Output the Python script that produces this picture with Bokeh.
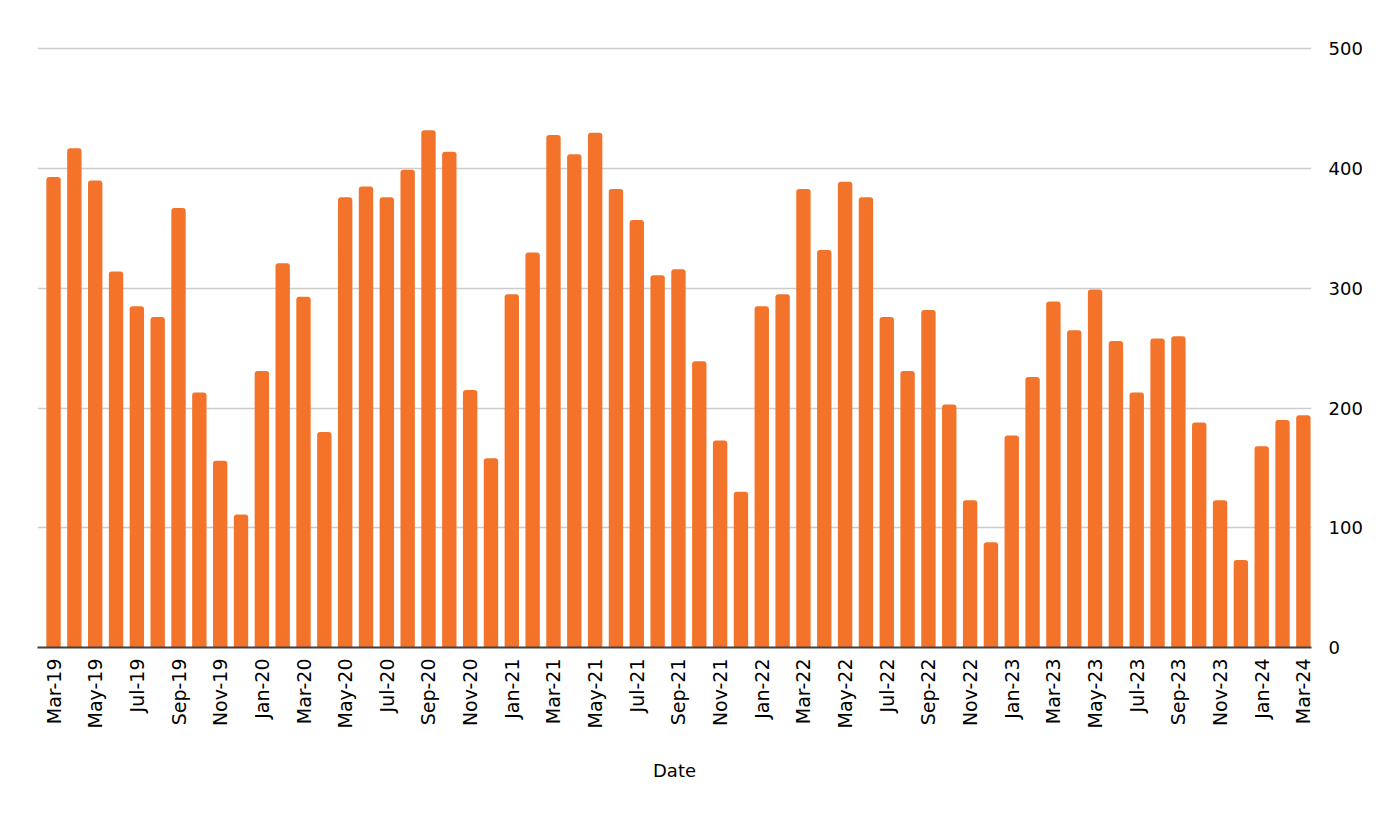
from bokeh.plotting import figure
from bokeh.models import LinearAxis, Range1d, SingleIntervalTicker, FixedTicker
from bokeh.embed import file_html
from bokeh.resources import INLINE
import math

months = ["Mar-19","Apr-19","May-19","Jun-19","Jul-19","Aug-19","Sep-19","Oct-19","Nov-19","Dec-19",
          "Jan-20","Feb-20","Mar-20","Apr-20","May-20","Jun-20","Jul-20","Aug-20","Sep-20","Oct-20","Nov-20","Dec-20",
          "Jan-21","Feb-21","Mar-21","Apr-21","May-21","Jun-21","Jul-21","Aug-21","Sep-21","Oct-21","Nov-21","Dec-21",
          "Jan-22","Feb-22","Mar-22","Apr-22","May-22","Jun-22","Jul-22","Aug-22","Sep-22","Oct-22","Nov-22","Dec-22",
          "Jan-23","Feb-23","Mar-23","Apr-23","May-23","Jun-23","Jul-23","Aug-23","Sep-23","Oct-23","Nov-23","Dec-23",
          "Jan-24","Feb-24","Mar-24"]
values = [393, 417, 390, 314, 285, 276, 367, 213, 156, 111,
          231, 321, 293, 180, 376, 385, 376, 399, 432, 414, 215, 158,
          295, 330, 428, 412, 430, 383, 357, 311, 316, 239, 173, 130,
          285, 295, 383, 332, 389, 376, 276, 231, 282, 203, 123, 88,
          177, 226, 289, 265, 299, 256, 213, 258, 260, 188, 123, 73,
          168, 190, 194]

idx = list(range(len(months)))
FONT = "DejaVu Sans"

p = figure(x_range=Range1d(-0.77, len(months) - 0.61),
           y_range=Range1d(0, 502),
           frame_width=1274, frame_height=601,
           output_backend="svg", toolbar_location=None,
           min_border_left=37, min_border_top=46, min_border_right=20, min_border_bottom=10,
           y_axis_location=None)
p.outline_line_color = None

p.vbar(x=idx, top=values, width=0.69, color="#F3732A", line_color=None,
       border_radius=(3, 3, 0, 0))

xa = p.xaxis[0]
xa.ticker = FixedTicker(ticks=idx[::2])
xa.major_label_overrides = {i: months[i] for i in idx[::2]}
xa.major_label_orientation = math.pi / 2
xa.major_tick_line_color = None
xa.minor_tick_line_color = None
xa.axis_line_color = "#404040"
xa.axis_line_width = 2
xa.major_label_text_font = FONT
xa.major_label_text_font_size = "19px"
xa.major_label_text_color = "#000000"
xa.major_label_standoff = 5
xa.axis_label = "Date"
xa.axis_label_text_font = FONT
xa.axis_label_text_font_style = "normal"
xa.axis_label_text_font_size = "18px"
xa.axis_label_text_color = "#000000"
xa.axis_label_standoff = 29

ya = LinearAxis(ticker=SingleIntervalTicker(interval=100))
ya.axis_line_color = None
ya.major_tick_line_color = None
ya.minor_tick_line_color = None
ya.major_label_text_font = FONT
ya.major_label_text_font_size = "18px"
ya.major_label_text_color = "#000000"
ya.major_label_standoff = 11
p.add_layout(ya, "right")

p.xgrid.grid_line_color = None
p.ygrid.grid_line_color = "#CCCCCC"
p.ygrid.grid_line_width = 1.5
p.ygrid.ticker = SingleIntervalTicker(interval=100)

open("out.html", "w").write(file_html(p, INLINE))
